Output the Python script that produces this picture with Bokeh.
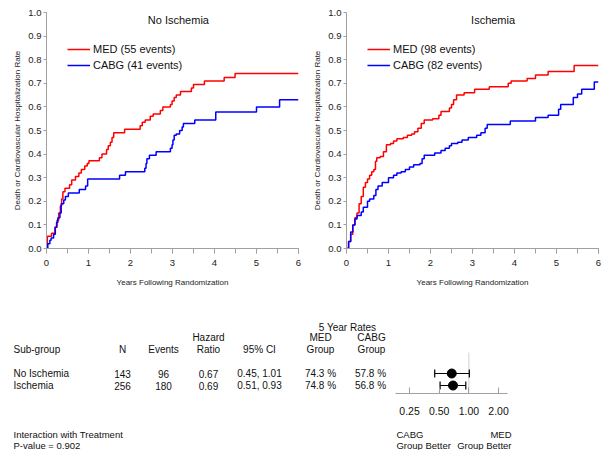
import math
from bokeh.plotting import figure
from bokeh.layouts import row, column
from bokeh.models import (Range1d, SingleIntervalTicker, FixedTicker, Legend, LegendItem,
                          Label, NumeralTickFormatter, CustomJSTickFormatter)
from bokeh.core.properties import value
from bokeh.embed import file_html
from bokeh.resources import INLINE

FONT = "Liberation Sans"

# ---------------- Kaplan-Meier data (cumulative event rate) ----------------
noisch_med_t = [0, 0.02, 0.12, 0.2, 0.25, 0.29, 0.33, 0.36, 0.39, 0.44, 0.55, 0.6, 0.69, 0.77, 0.83,
                0.91, 0.97, 1.01, 1.26, 1.32, 1.43, 1.47, 1.52, 1.56, 1.6, 1.86, 2.23, 2.28, 2.35,
                2.47, 2.54, 2.71, 2.77, 2.95, 2.99, 3.04, 3.09, 3.19, 3.45, 3.5, 3.76, 4.23, 4.49, 6.0]
noisch_med_v = [0, 0.052, 0.065, 0.09, 0.12, 0.15, 0.18, 0.21, 0.24, 0.255, 0.27, 0.29, 0.305, 0.32,
                0.335, 0.35, 0.36, 0.372, 0.385, 0.40, 0.42, 0.435, 0.45, 0.47, 0.49, 0.505, 0.52,
                0.535, 0.545, 0.56, 0.57, 0.585, 0.60, 0.61, 0.625, 0.64, 0.65, 0.665, 0.68, 0.695,
                0.71, 0.725, 0.742, 0.742]
noisch_cabg_t = [0, 0.03, 0.08, 0.11, 0.17, 0.21, 0.24, 0.27, 0.32, 0.35, 0.41, 0.45, 0.52, 0.78,
                 0.93, 0.98, 1.74, 1.88, 2.34, 2.37, 2.39, 2.45, 2.61, 2.95, 2.99, 3.01, 3.04, 3.09,
                 3.17, 3.23, 3.26, 3.53, 4.03, 5.0, 5.55, 6.0]
noisch_cabg_v = [0, 0.02, 0.035, 0.045, 0.06, 0.09, 0.11, 0.13, 0.15, 0.19, 0.205, 0.22, 0.235,
                 0.25, 0.265, 0.295, 0.31, 0.325, 0.34, 0.36, 0.38, 0.395, 0.41, 0.425, 0.44, 0.46,
                 0.48, 0.485, 0.50, 0.515, 0.53, 0.545, 0.578, 0.60, 0.63, 0.63]

isch_med_t = [0, 0.05, 0.1, 0.15, 0.2, 0.25, 0.3, 0.35, 0.4, 0.45, 0.5, 0.55, 0.6, 0.65, 0.69, 0.72,
              0.8, 0.88, 0.95, 1.05, 1.12, 1.2, 1.35, 1.45, 1.55, 1.62, 1.7, 1.78, 1.85, 2.05, 2.2,
              2.25, 2.45, 2.5, 2.55, 2.62, 2.8, 3.05, 3.4, 3.85, 3.92, 4.3, 4.5, 4.8, 5.42, 6.0]
isch_med_v = [0, 0.03, 0.06, 0.10, 0.13, 0.15, 0.19, 0.22, 0.26, 0.28, 0.295, 0.31, 0.325, 0.335,
              0.37, 0.385, 0.39, 0.41, 0.44, 0.445, 0.455, 0.465, 0.47, 0.48, 0.485, 0.495, 0.51,
              0.53, 0.545, 0.55, 0.565, 0.58, 0.595, 0.61, 0.63, 0.65, 0.66, 0.675, 0.685, 0.70,
              0.71, 0.72, 0.735, 0.75, 0.775, 0.775]
isch_cabg_t = [0, 0.05, 0.1, 0.15, 0.2, 0.25, 0.35, 0.4, 0.5, 0.55, 0.65, 0.7, 0.75, 0.85, 1.0, 1.12,
               1.2, 1.3, 1.4, 1.5, 1.6, 1.75, 1.8, 1.85, 2.1, 2.25, 2.35, 2.45, 2.5, 2.65, 2.75, 2.9,
               3.1, 3.2, 3.3, 3.35, 3.9, 4.5, 4.8, 5.05, 5.1, 5.4, 5.5, 5.6, 5.9, 6.0]
isch_cabg_v = [0, 0.03, 0.07, 0.10, 0.125, 0.14, 0.155, 0.175, 0.2, 0.21, 0.225, 0.25, 0.265, 0.28,
               0.30, 0.31, 0.32, 0.325, 0.335, 0.345, 0.355, 0.36, 0.38, 0.395, 0.405, 0.415, 0.425,
               0.435, 0.445, 0.45, 0.46, 0.47, 0.48, 0.49, 0.51, 0.525, 0.54, 0.555, 0.565, 0.59,
               0.61, 0.64, 0.655, 0.675, 0.705, 0.705]

panel_titles = ["No Ischemia", "Ischemia"]
med_events = [55, 98]
cabg_events = [41, 82]

# ---------------- Subgroup table data ----------------
subgroups = ["No Ischemia", "Ischemia"]
n_pts = [143, 256]
n_events = [96, 180]
hazard_ratio = [0.67, 0.69]
ci_low = [0.45, 0.51]
ci_high = [1.01, 0.93]
med_rate5 = [74.3, 74.8]
cabg_rate5 = [57.8, 56.8]
p_interaction = 0.902
forest_ticks = [0.25, 0.5, 1.0, 2.0]

RED = "#ff0000"
BLUE = "#0000ff"
AXIS_GREY = "#a0a0a0"
TXT = "#111111"


def km_fig(title, title_x, mt, mv, ct, cv, me, ce, width, left_border):
    p = figure(width=width, height=304, x_range=Range1d(0, 6), y_range=Range1d(0, 1),
               output_backend="svg", toolbar_location=None,
               min_border_left=left_border, min_border_right=width - left_border - 252,
               min_border_top=12, min_border_bottom=56)
    p.outline_line_color = None
    p.grid.visible = False
    r1 = p.step(x=mt, y=mv, mode="after", line_color=RED, line_width=1.5)
    r2 = p.step(x=ct, y=cv, mode="after", line_color=BLUE, line_width=1.5)

    xa = p.xaxis[0]
    xa.ticker = SingleIntervalTicker(interval=1, num_minor_ticks=2)
    xa.major_tick_in = 0
    xa.major_tick_out = 5
    xa.minor_tick_in = 0
    xa.minor_tick_out = 5
    xa.axis_label = "Years Following Randomization"
    xa.major_label_standoff = 6
    xa.axis_label_standoff = 9

    ya = p.yaxis[0]
    ya.ticker = SingleIntervalTicker(interval=0.1, num_minor_ticks=0)
    ya.formatter = NumeralTickFormatter(format="0.0")
    ya.major_tick_in = 0
    ya.major_tick_out = 3
    ya.axis_label = "Death or Cardiovascular Hospitalization Rate"
    ya.major_label_standoff = 2
    ya.axis_label_standoff = 3

    for ax in (xa, ya):
        ax.axis_line_color = AXIS_GREY
        ax.major_tick_line_color = AXIS_GREY
        ax.major_label_text_font = FONT
        ax.major_label_text_font_size = "9.5px"
        ax.major_label_text_color = "#222222"
        ax.axis_label_text_font = FONT
        ax.axis_label_text_font_size = "8px"
        ax.axis_label_text_font_style = "normal"
        ax.axis_label_text_color = "#222222"
    xa.minor_tick_line_color = AXIS_GREY
    ya.minor_tick_line_color = None

    legend = Legend(items=[LegendItem(label=f"MED ({me} events)", renderers=[r1]),
                           LegendItem(label=f"CABG ({ce} events)", renderers=[r2])],
                    location=(21, 175), border_line_color=None, background_fill_alpha=0,
                    padding=0, margin=0, spacing=0, glyph_width=23, glyph_height=16,
                    label_height=16, label_standoff=3, label_text_font=FONT,
                    label_text_font_size="11px", label_text_color=TXT)
    p.add_layout(legend)
    p.add_layout(Label(x=title_x, y=0.97, text=title, text_align="center",
                       text_baseline="middle", text_font=FONT, text_font_size="11px",
                       text_color=TXT))
    return p


left = km_fig(panel_titles[0], 3.14, noisch_med_t, noisch_med_v, noisch_cabg_t, noisch_cabg_v,
              med_events[0], cabg_events[0], 308, 46)
right = km_fig(panel_titles[1], 3.49, isch_med_t, isch_med_v, isch_cabg_t, isch_cabg_v,
               med_events[1], cabg_events[1], 300, 38)

# ---------------- Table ----------------
TF = "10px"
tbl = figure(width=395, height=146, x_range=Range1d(0, 395), y_range=Range1d(146, 0),
             output_backend="svg", toolbar_location=None, x_axis_location=None,
             y_axis_location=None, min_border=0)
tbl.outline_line_color = None
tbl.grid.visible = False

row_y = [69, 81]
col_x = {"n": 122, "ev": 163, "hr": 208, "ci": 259, "med": 320, "cabg": 370}

hdr_x = [347, 208, 208, 320, 320, 371, 371, 122, 163, 259]
hdr_y = [23, 33, 45, 33, 45, 33, 45, 45, 45, 45]
hdr_t = ["5 Year Rates", "Hazard", "Ratio", "MED", "Group", "CABG", "Group", "N", "Events", "95% CI"]
tbl.text(x=hdr_x, y=hdr_y, text=hdr_t, text_align="center", text_baseline="middle",
         text_font=value(FONT), text_font_size=TF, text_color=TXT)
tbl.text(x=[13], y=[45], text=["Sub-group"], text_align="left", text_baseline="middle",
         text_font=value(FONT), text_font_size=TF, text_color=TXT)

tbl.text(x=[13] * len(subgroups), y=row_y, text=subgroups, text_align="left",
         text_baseline="middle", text_font=value(FONT), text_font_size=TF, text_color=TXT)
cells_x, cells_y, cells_t = [], [], []
for i in range(len(subgroups)):
    vals = [("n", str(n_pts[i])), ("ev", str(n_events[i])), ("hr", f"{hazard_ratio[i]:.2f}"),
            ("ci", f"{ci_low[i]:.2f}, {ci_high[i]:.2f}"), ("med", f"{med_rate5[i]:.1f} %"),
            ("cabg", f"{cabg_rate5[i]:.1f} %")]
    for k, t in vals:
        cells_x.append(col_x[k])
        cells_y.append(row_y[i])
        cells_t.append(t)
tbl.text(x=cells_x, y=cells_y, text=cells_t, text_align="center", text_baseline="middle",
         text_font=value(FONT), text_font_size=TF, text_color=TXT)
tbl.text(x=[13, 13], y=[130, 141],
         text=["Interaction with Treatment", f"P-value = {p_interaction:.3f}"],
         text_align="left", text_baseline="middle", text_font=value(FONT),
         text_font_size="9.5px", text_color=TXT)

# ---------------- Forest plot ----------------
fx = Range1d(0.18, 26.1)
fr = figure(width=213, height=117, x_axis_type="log", x_range=fx, y_range=Range1d(89, 0),
            output_backend="svg", toolbar_location=None, y_axis_location=None,
            min_border_left=0, min_border_right=0, min_border_top=0, min_border_bottom=28)
fr.outline_line_color = None
fr.grid.visible = False
fr.segment(x0=[1.0], x1=[1.0], y0=[48], y1=[89], line_color="#d0d0d0", line_width=1)
fr.segment(x0=ci_low, x1=ci_high, y0=row_y, y1=row_y, line_color="black", line_width=1.2)
fr.scatter(x=ci_low + ci_high, y=row_y + row_y, marker="dash", angle=math.pi / 2, size=8,
           line_color="black", line_width=1.2)
fr.scatter(x=hazard_ratio, y=row_y, marker="circle", size=9, fill_color="black",
           line_color="black")
fa = fr.xaxis[0]
fa.ticker = FixedTicker(ticks=forest_ticks, minor_ticks=[])
fa.formatter = CustomJSTickFormatter(code="return tick.toFixed(2);")
fa.bounds = (0.18, 2.47)
fa.major_tick_in = 6
fa.major_tick_out = 0
fa.minor_tick_line_color = None
fa.axis_line_color = AXIS_GREY
fa.major_tick_line_color = AXIS_GREY
fa.major_label_standoff = 13
fa.major_label_text_font = FONT
fa.major_label_text_font_size = "10.5px"
fa.major_label_text_color = TXT

foot = figure(width=213, height=29, x_axis_type="log", x_range=fx, y_range=Range1d(146, 117),
              output_backend="svg", toolbar_location=None, x_axis_location=None,
              y_axis_location=None, min_border=0)
foot.outline_line_color = None
foot.grid.visible = False
foot.text(x=[0.184, 0.184], y=[130, 141], text=["CABG", "Group Better"], text_align="left",
          text_baseline="middle", text_font=value(FONT), text_font_size="9.5px", text_color=TXT)
foot.text(x=[2.708, 2.708], y=[130, 141], text=["MED", "Group Better"], text_align="right",
          text_baseline="middle", text_font=value(FONT), text_font_size="9.5px", text_color=TXT)

layout = column(row(left, right), row(tbl, column(fr, foot)))

open("out.html", "w").write(file_html(layout, INLINE))
